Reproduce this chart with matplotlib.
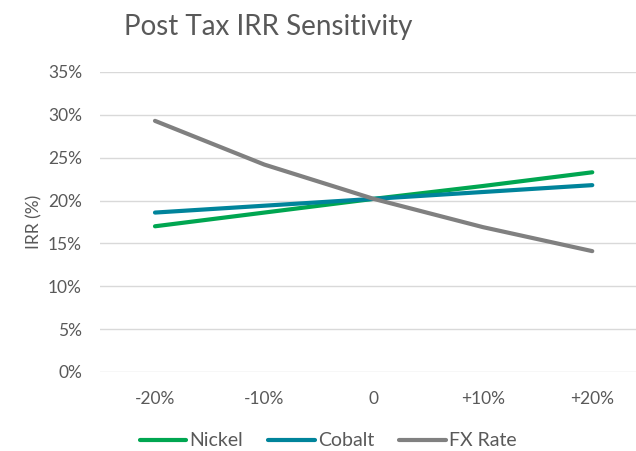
import matplotlib
matplotlib.use("Agg")
import matplotlib.pyplot as plt
from matplotlib.ticker import FuncFormatter

# data
categories = ["-20%", "-10%", "0", "+10%", "+20%"]
nickel = [17.0, 18.6, 20.2, 21.7, 23.3]
cobalt = [18.6, 19.4, 20.2, 21.0, 21.8]
fx_rate = [29.3, 24.2, 20.2, 16.9, 14.1]

textcol = "#595959"
plt.rcParams['font.family'] = ['Lato', 'DejaVu Sans']

fig = plt.figure(figsize=(6.36, 4.51), dpi=100)
ax = fig.add_axes([100/636, 1-372/451, 536/636, 300/451])

x = list(range(len(categories)))
ax.plot(x, nickel, color="#00A651", lw=3, solid_capstyle='round', label="Nickel")
ax.plot(x, cobalt, color="#00849B", lw=3, solid_capstyle='round', label="Cobalt")
ax.plot(x, fx_rate, color="#808080", lw=3, solid_capstyle='round', label="FX Rate")

ax.set_ylim(0, 35)
ax.set_yticks(range(0, 36, 5))
ax.yaxis.set_major_formatter(FuncFormatter(lambda v, p: "%d%%" % v))
ax.set_xlim(-0.503, 4.40)
ax.set_xticks(x)
ax.set_xticklabels(categories)

ax.grid(axis='y', color="#d9d9d9", lw=1)
ax.set_axisbelow(True)
for s in ax.spines.values():
	s.set_visible(False)
ax.tick_params(length=0, labelsize=12.5, colors=textcol)
ax.tick_params(axis='x', pad=14)
ax.tick_params(axis='y', pad=13)

ax.set_ylabel("IRR (%)", fontsize=12.5, color=textcol, labelpad=4)
fig.text(268/636, 1-27/451, "Post Tax IRR Sensitivity", ha='center', va='center', fontsize=20, color=textcol)

fig.legend(loc='center', bbox_to_anchor=(328/636, 1-441/451), ncol=3, frameon=False,
	fontsize=14, labelcolor=textcol, handlelength=2.4, handletextpad=0.15, columnspacing=1.3)

fig.savefig("out.png", dpi=100)
